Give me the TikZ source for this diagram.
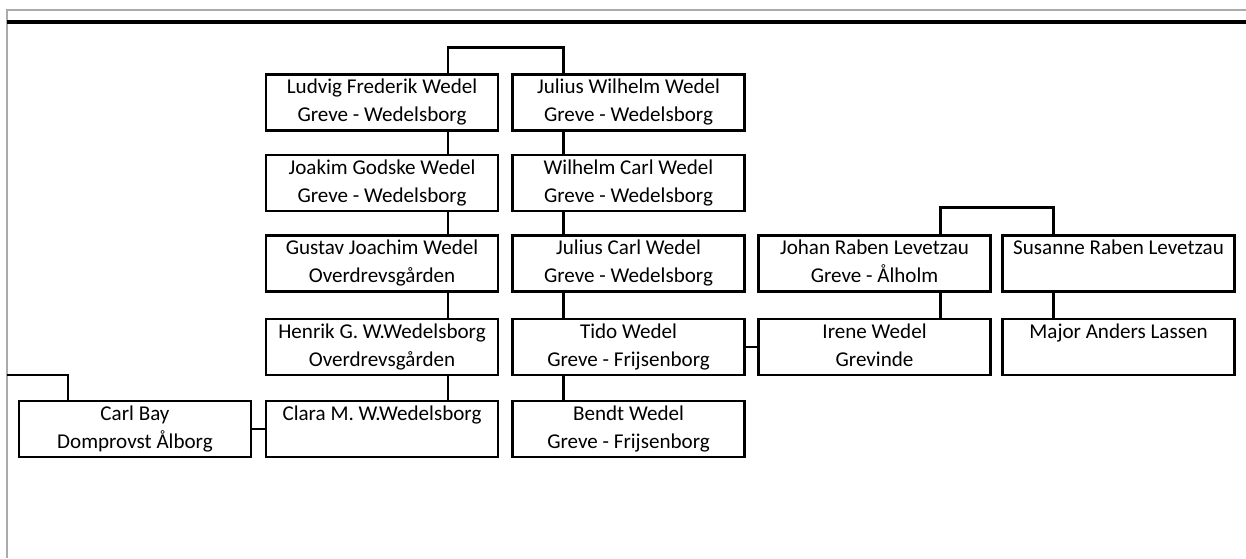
\documentclass[tikz,border=0pt]{standalone}
\usepackage{fontspec}
\setmainfont{Carlito}
\usetikzlibrary{calc}

\begin{document}
\begin{tikzpicture}[x = 0.02cm, y = -0.02cm, line width = 1.2pt,
                      person/.style = {rectangle, draw, minimum width = 4.64cm, minimum height = 1.12cm,
                                       inner sep = 0pt, align = center, font = \fontsize{12}{16}\selectfont,
                                       execute at begin node = \rule{0pt}{13.2pt},
                                       execute at end node = \rule[-2.5pt]{0pt}{2.5pt}},
                      rule/.style = {line width = 1.8pt},
                      frame/.style = {line width = 0.6pt, draw = black!33}]
    \useasboundingbox (0, 0) rectangle (1246, 558);
    \draw [frame] (7, 558) -- (7, 10) -- (1246, 10);
    \draw [rule] (7, 22) -- (1246, 22);

    % Wedelsborg line
    \node [person] (ludvig) at (382, 102.5) {Ludvig Frederik Wedel\\Greve - Wedelsborg};
    \node [person] (joakim) at (382, 183) {Joakim Godske Wedel\\Greve - Wedelsborg};
    \node [person] (gustav) at (382, 263.5) {Gustav Joachim Wedel\\Overdrevsgården};
    \node [person] (henrik) at (382, 347) {Henrik G. W.Wedelsborg\\Overdrevsgården};
    \node [person] (clara) at (382, 429) {Clara M. W.Wedelsborg\\\mbox{}};
    \draw ($(ludvig.south)+(66, 0)$) -- ($(joakim.north)+(66, 0)$);
    \draw ($(joakim.south)+(66, 0)$) -- ($(gustav.north)+(66, 0)$);
    \draw ($(gustav.south)+(66, 0)$) -- ($(henrik.north)+(66, 0)$);
    \draw ($(henrik.south)+(66, 0)$) -- ($(clara.north)+(66, 0)$);

    % Frijsenborg line
    \node [person] (julius) at (628.5, 102.5) {Julius Wilhelm Wedel\\Greve - Wedelsborg};
    \node [person] (wilhelm) at (628.5, 183) {Wilhelm Carl Wedel\\Greve - Wedelsborg};
    \node [person] (juliusc) at (628.5, 263.5) {Julius Carl Wedel\\Greve - Wedelsborg};
    \node [person] (tido) at (628.5, 347) {Tido Wedel\\Greve - Frijsenborg};
    \node [person] (bendt) at (628.5, 429) {Bendt Wedel\\Greve - Frijsenborg};
    \draw ($(julius.south)+(-65, 0)$) -- ($(wilhelm.north)+(-65, 0)$);
    \draw ($(wilhelm.south)+(-65, 0)$) -- ($(juliusc.north)+(-65, 0)$);
    \draw ($(juliusc.south)+(-65, 0)$) -- ($(tido.north)+(-65, 0)$);
    \draw ($(tido.south)+(-65, 0)$) -- ($(bendt.north)+(-65, 0)$);
    \draw ($(ludvig.north)+(66, 0)$) -- ++(0, -26) -| ($(julius.north)+(-65, 0)$);

    % Levetzau
    \node [person] (johan) at (874.5, 263.5) {Johan Raben Levetzau\\Greve - Ålholm};
    \node [person] (susanne) at (1118.5, 263.5) {Susanne Raben Levetzau\\\mbox{}};
    \node [person] (irene) at (874.5, 347) {Irene Wedel\\Grevinde};
    \node [person] (anders) at (1118.5, 347) {Major Anders Lassen\\\mbox{}};
    \draw ($(johan.north)+(66, 0)$) -- ++(0, -27) -| ($(susanne.north)+(-65, 0)$);
    \draw ($(johan.south)+(66, 0)$) -- ($(irene.north)+(66, 0)$);
    \draw ($(susanne.south)+(-65, 0)$) -- ($(anders.north)+(-65, 0)$);
    \draw (tido.east) -- (irene.west);

    % Bay
    \node [person] (carl) at (135, 429) {Carl Bay\\Domprovst Ålborg};
    \coordinate (away) at (7, 375);
    \draw ($(carl.north)+(-67, 0)$) |- (away);
    \draw (carl.east) -- (clara.west);
    \end{tikzpicture}
\end{document}
